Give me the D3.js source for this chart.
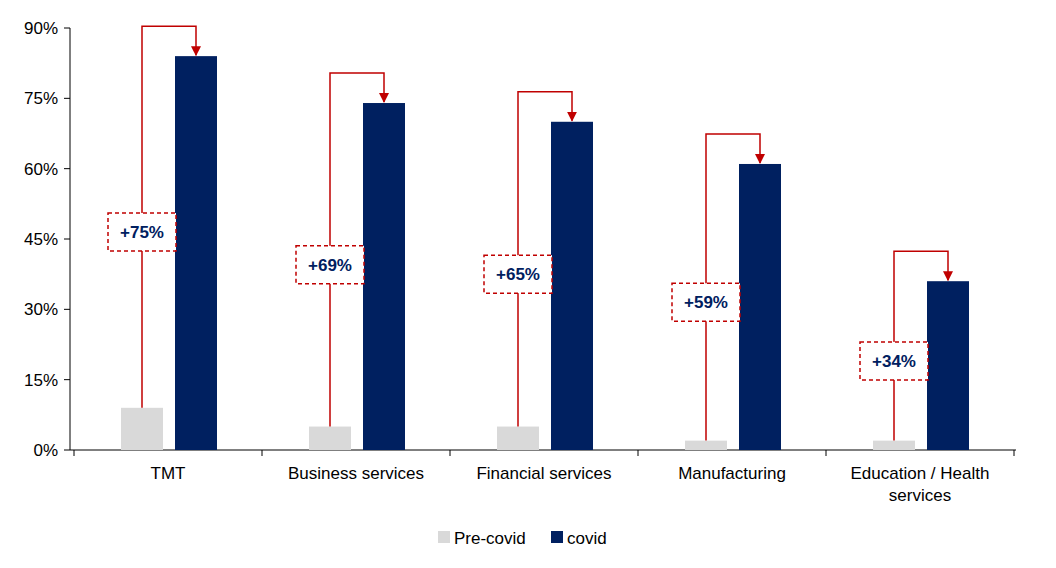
<!DOCTYPE html>
<html><head><meta charset="utf-8">
<script src="https://cdn.jsdelivr.net/npm/d3@7"></script>
<style>body{margin:0;background:#fff;font-family:"Liberation Sans",Arial,sans-serif}</style>
</head><body><svg id="c" width="1056" height="568"></svg>
<script>
const categories = [["TMT"],["Business services"],["Financial services"],["Manufacturing"],["Education / Health","services"]];
const preCovid = [9,5,5,2,2];
const covid = [84,74,70,61,36];
const deltas = ["+75%","+69%","+65%","+59%","+34%"];
const yTicks = [0,15,30,45,60,75,90];

const svg = d3.select("#c");
const x = d3.scaleBand().domain(d3.range(5)).range([74,1014]);
const y = d3.scaleLinear().domain([0,90]).range([450,28]);
const navy="#002060", grey="#d9d9d9", red="#c00000";

// axes
svg.append("line").attr("x1",70).attr("x2",70).attr("y1",28).attr("y2",450).attr("stroke","#000");
svg.append("line").attr("x1",70).attr("x2",1016).attr("y1",450).attr("y2",450).attr("stroke","#000");
yTicks.forEach(t=>{
  svg.append("line").attr("x1",64).attr("x2",70).attr("y1",y(t)).attr("y2",y(t)).attr("stroke","#000");
  svg.append("text").attr("x",58).attr("y",y(t)+6).attr("text-anchor","end").attr("font-size",17).text(t+"%");
});
d3.range(6).forEach(i=>{
  const xx = 74+i*188;
  svg.append("line").attr("x1",xx).attr("x2",xx).attr("y1",450).attr("y2",456).attr("stroke","#000");
});
svg.append("defs").append("marker").attr("id","ar").attr("viewBox","0 0 10 10").attr("refX",9).attr("refY",5)
  .attr("markerWidth",10).attr("markerHeight",10).attr("markerUnits","userSpaceOnUse").attr("orient","auto")
  .append("path").attr("d","M0,0L10,5L0,10z").attr("fill",red);

categories.forEach((c,i)=>{
  const cx = x(i)+x.bandwidth()/2;
  const px = cx-47, qx = cx+7, w=42;
  svg.append("rect").attr("x",px).attr("width",w).attr("y",y(preCovid[i])).attr("height",450-y(preCovid[i])).attr("fill",grey);
  svg.append("rect").attr("x",qx).attr("width",w).attr("y",y(covid[i])).attr("height",450-y(covid[i])).attr("fill",navy);
  const top = y(covid[i])-30;
  svg.append("path").attr("d",`M${px+w/2},${y(preCovid[i])}V${top}H${qx+w/2}V${y(covid[i])-1}`)
    .attr("fill","none").attr("stroke",red).attr("stroke-width",1.5).attr("marker-end","url(#ar)");
  const ly = y((preCovid[i]+covid[i])/2);
  svg.append("rect").attr("x",px+w/2-34).attr("y",ly-19).attr("width",68).attr("height",38)
    .attr("fill","#fff").attr("stroke",red).attr("stroke-width",1.5).attr("stroke-dasharray","4,3");
  svg.append("text").attr("x",px+w/2).attr("y",ly+6).attr("text-anchor","middle").attr("font-size",17)
    .attr("font-weight","bold").attr("fill",navy).text(deltas[i]);
  c.forEach((l,j)=>svg.append("text").attr("x",cx).attr("y",479+j*22).attr("text-anchor","middle").attr("font-size",17).text(l));
});
// legend
svg.append("rect").attr("x",438).attr("y",531).attr("width",12).attr("height",12).attr("fill",grey);
svg.append("text").attr("x",454).attr("y",544).attr("font-size",17).text("Pre-covid");
svg.append("rect").attr("x",551).attr("y",531).attr("width",12).attr("height",12).attr("fill",navy);
svg.append("text").attr("x",567).attr("y",544).attr("font-size",17).text("covid");
</script></body></html>
